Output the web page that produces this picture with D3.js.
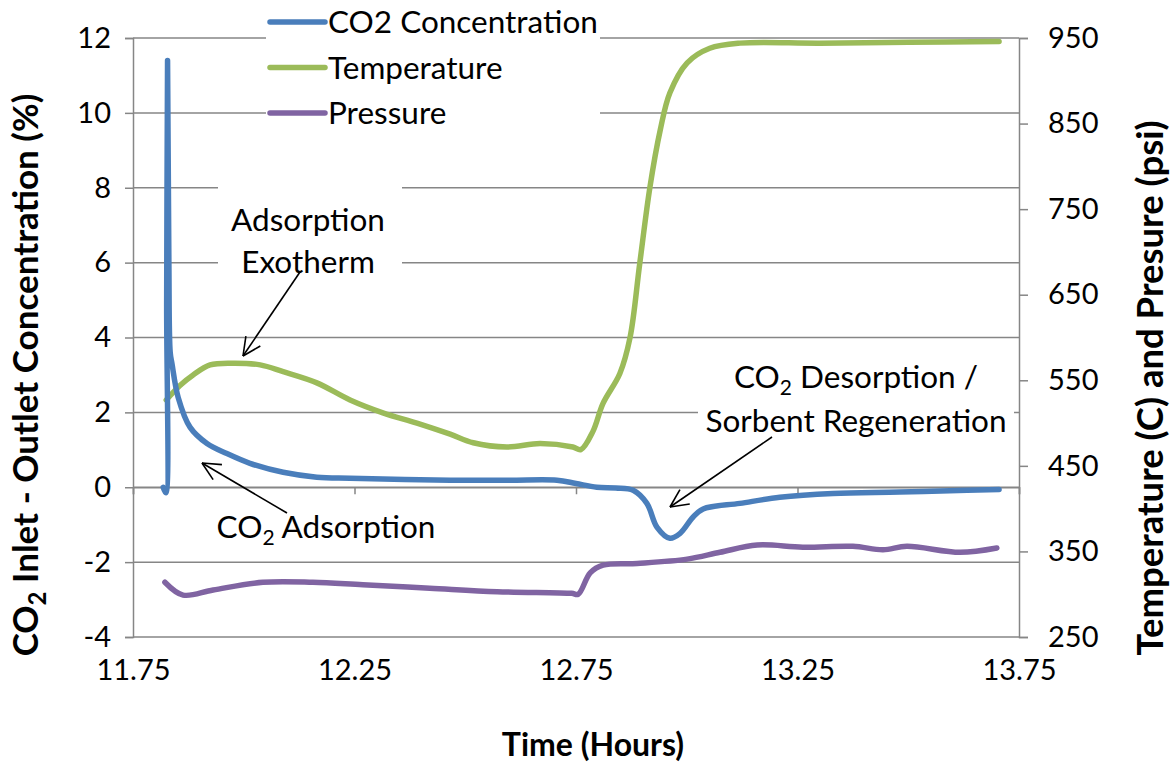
<!DOCTYPE html>
<html><head><meta charset="utf-8">
<script src="https://cdn.jsdelivr.net/npm/d3@7"></script>
<style>
html,body{margin:0;padding:0;background:#fff;}
text{font-family:Lato,"Open Sans",sans-serif;fill:#000;}
</style></head>
<body><svg id="c" width="1170" height="764"></svg>
<script>
// ---- data ----
const xTicks = [11.75, 12.25, 12.75, 13.25, 13.75];
const xTickLabels = ["11.75", "12.25", "12.75", "13.25", "13.75"];
const leftTicks = [-4, -2, 0, 2, 4, 6, 8, 10, 12];
const rightTicks = [250, 350, 450, 550, 650, 750, 850, 950];

// CO2 concentration (left axis, %)
const co2Time = [11.818, 11.824, 11.826, 11.828, 11.831, 11.834, 11.838, 11.852, 11.879, 11.917, 11.962, 12.014, 12.089, 12.165, 12.240, 12.466, 12.600, 12.707, 12.750, 12.797, 12.840, 12.879, 12.910, 12.933, 12.962, 12.985, 13.014, 13.037, 13.120, 13.210, 13.330, 13.481, 13.633, 13.705];
const co2Vals = [0.0, -0.15, 5.0, 11.4, 6.0, 3.6, 3.3, 2.4, 1.6, 1.17, 0.9, 0.64, 0.40, 0.27, 0.24, 0.19, 0.19, 0.19, 0.10, 0.0, -0.02, -0.08, -0.43, -1.07, -1.36, -1.23, -0.80, -0.58, -0.43, -0.27, -0.17, -0.13, -0.08, -0.06];

// Temperature (right axis, C)
const tempTime = [11.825, 11.856, 11.885, 11.924, 11.976, 12.037, 12.089, 12.165, 12.240, 12.314, 12.391, 12.466, 12.518, 12.594, 12.669, 12.743, 12.761, 12.788, 12.811, 12.849, 12.872, 12.894, 12.917, 12.940, 12.962, 13.001, 13.052, 13.120, 13.300, 13.500, 13.705];
const tempVals = [527, 544, 556, 568, 570, 568, 560, 547, 527, 512, 500, 487, 477, 472, 476, 472, 469, 490, 523, 558, 600, 687, 776, 842, 886, 921, 938, 944, 944, 945, 946];

// Pressure (right axis, psi)
const presTime = [11.822, 11.863, 11.931, 12.043, 12.156, 12.269, 12.420, 12.572, 12.740, 12.755, 12.782, 12.811, 12.888, 13.001, 13.075, 13.159, 13.262, 13.375, 13.443, 13.497, 13.617, 13.700];
const presVals = [314, 299, 305, 314, 314, 311, 307, 303, 301, 300, 325, 334, 336, 341, 349, 357.5, 355, 356, 352, 356, 349, 354];

const seriesNames = ["CO2 Concentration", "Temperature", "Pressure"];
const seriesColors = ["#4A7EBB", "#9BBB59", "#8064A2"];

// ---- chart ----
const svg = d3.select("#c");
const L = 133, R = 1019, T = 38, B = 637;
const x = d3.scaleLinear().domain([11.75, 13.75]).range([L, R]);
const yL = d3.scaleLinear().domain([-4, 12]).range([B, T]);
const yR = d3.scaleLinear().domain([250, 950]).range([B, T]);
const grey = "#868686";
const FS = "31.5px", TFS = "29px";

// gridlines
svg.append("g").selectAll("line").data(leftTicks).join("line")
  .attr("x1", L).attr("x2", R).attr("y1", d => yL(d)).attr("y2", d => yL(d))
  .attr("stroke", grey).attr("stroke-width", 1.5);

// left axis
const gl = svg.append("g").attr("transform", `translate(${L},0)`)
  .call(d3.axisLeft(yL).tickValues(leftTicks).tickSize(8).tickPadding(14).tickFormat(d => String(d)));
// right axis
const gr = svg.append("g").attr("transform", `translate(${R},0)`)
  .call(d3.axisRight(yR).tickValues(rightTicks).tickSize(9).tickPadding(20).tickFormat(d => String(d)));
// x axis at y = 0 (ticks only), labels at bottom
const gx = svg.append("g").attr("transform", `translate(0,${yL(0)})`)
  .call(d3.axisBottom(x).tickValues(xTicks).tickSize(7).tickFormat(""));
const gxl = svg.append("g").attr("transform", `translate(0,${B})`)
  .call(d3.axisBottom(x).tickValues(xTicks).tickSize(0).tickPadding(22).tickFormat((d, i) => xTickLabels[i]));
gxl.select(".domain").remove();
[gl, gr, gx].forEach(g => {
  g.selectAll(".domain,line").attr("stroke", grey).attr("stroke-width", 1.5);
});
[gl, gr, gxl].forEach(g => g.selectAll("text").style("font-size", TFS).style("font-family", "Lato").attr("fill", "#000"));

// annotation white boxes (hide gridlines behind text)
svg.append("rect").attr("x", 218).attr("y", 186).attr("width", 184).attr("height", 96).attr("fill", "#fff");
svg.append("rect").attr("x", 698).attr("y", 350).attr("width", 316).attr("height", 90).attr("fill", "#fff");

// lines
const lineL = d3.line().x(d => x(d[0])).y(d => yL(d[1])).curve(d3.curveCatmullRom.alpha(0.5));
const lineR = d3.line().x(d => x(d[0])).y(d => yR(d[1])).curve(d3.curveCatmullRom.alpha(0.5));
svg.append("path").datum(presTime.map((t, i) => [t, presVals[i]]))
  .attr("d", lineR).attr("fill", "none").attr("stroke", seriesColors[2]).attr("stroke-width", 5.5).attr("stroke-linejoin", "round").attr("stroke-linecap", "round");
svg.append("path").datum(tempTime.map((t, i) => [t, tempVals[i]]))
  .attr("d", lineR).attr("fill", "none").attr("stroke", seriesColors[1]).attr("stroke-width", 5.5).attr("stroke-linejoin", "round").attr("stroke-linecap", "round");
svg.append("path").datum(co2Time.map((t, i) => [t, co2Vals[i]]))
  .attr("d", lineL).attr("fill", "none").attr("stroke", seriesColors[0]).attr("stroke-width", 5.5).attr("stroke-linejoin", "round").attr("stroke-linecap", "round");

// legend
const lg = svg.append("g");
lg.append("rect").attr("x", 266).attr("y", 0).attr("width", 334).attr("height", 136).attr("fill", "#fff");
seriesNames.forEach((n, i) => {
  const yy = 22 + i * 45.5;
  lg.append("line").attr("x1", 270).attr("x2", 325).attr("y1", yy).attr("y2", yy)
    .attr("stroke", seriesColors[i]).attr("stroke-width", 5.5).attr("stroke-linecap", "round");
  lg.append("text").attr("x", 328).attr("y", yy).attr("dy", "0.36em").style("font-size", FS).text(n);
});

// annotations
function txt(xp, yp, anchor, parts) {
  const t = svg.append("text").attr("x", xp).attr("y", yp).attr("text-anchor", anchor).style("font-size", FS);
  parts.forEach(p => {
    if (p.sub) t.append("tspan").attr("dy", 7).style("font-size", "21px").text(p.t);
    else t.append("tspan").attr("dy", p.after ? -7 : 0).text(p.t);
  });
  return t;
}
txt(308, 231, "middle", [{t: "Adsorption"}]);
txt(308, 273, "middle", [{t: "Exotherm"}]);
txt(326, 538, "middle", [{t: "CO"}, {t: "2", sub: true}, {t: " Adsorption", after: true}]);
txt(856, 388, "middle", [{t: "CO"}, {t: "2", sub: true}, {t: " Desorption /", after: true}]);
txt(856, 432, "middle", [{t: "Sorbent Regeneration"}]);

function arrow(x1, y1, x2, y2) {
  svg.append("line").attr("x1", x1).attr("y1", y1).attr("x2", x2).attr("y2", y2).attr("stroke", "#000").attr("stroke-width", 1.6);
  const a = Math.atan2(y2 - y1, x2 - x1), len = 20, sp = 0.45;
  [a + Math.PI - sp, a + Math.PI + sp].forEach(b => {
    svg.append("line").attr("x1", x2).attr("y1", y2)
      .attr("x2", x2 + len * Math.cos(b)).attr("y2", y2 + len * Math.sin(b))
      .attr("stroke", "#000").attr("stroke-width", 1.6);
  });
}
arrow(300, 272, 243, 356);
arrow(287, 513, 202, 463);
arrow(772, 437, 670, 507);

// axis titles
svg.append("text").attr("x", 593).attr("y", 756).attr("text-anchor", "middle")
  .style("font-size", "32px").style("font-weight", "bold").text("Time (Hours)");
const lt = svg.append("text").attr("transform", "translate(38,375) rotate(-90)").attr("text-anchor", "middle")
  .style("font-size", "35px").style("font-weight", "bold");
lt.append("tspan").text("CO");
lt.append("tspan").attr("dy", 8).style("font-size", "24px").text("2");
lt.append("tspan").attr("dy", -8).text(" Inlet - Outlet Concentration (%)");
svg.append("text").attr("transform", "translate(1163,388) rotate(-90)").attr("text-anchor", "middle")
  .style("font-size", "36.5px").style("font-weight", "bold").text("Temperature (C) and Presure (psi)");
</script></body></html>
